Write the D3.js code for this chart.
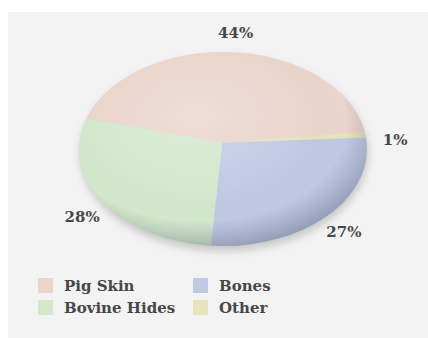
<!DOCTYPE html>
<html>
<head>
<meta charset="utf-8">
<script src="https://cdn.jsdelivr.net/npm/d3@7/dist/d3.min.js"></script>
<style>
  html, body { margin: 0; padding: 0; background: #ffffff; }
  svg { display: block; }
  text { font-family: "DejaVu Serif", "Liberation Serif", serif; fill: #474747; font-weight: bold; }
</style>
</head>
<body>
<script>
// Gelatin raw material sources, share of total (%)
const categories = ["Pig Skin", "Bovine Hides", "Bones", "Other"];
const values = [44, 28, 27, 1];
const colors = ["#ead4cb", "#d2e8cb", "#bfc9e3", "#e7e3bb"];
// Clockwise drawing order of the slices, starting at the upper left
const sliceOrder = ["Pig Skin", "Other", "Bones", "Bovine Hides"];
// Legend grid: two columns
const legendColumns = [["Pig Skin", "Bovine Hides"], ["Bones", "Other"]];

const W = 428, H = 338;
const cx = 223, cy = 149, rx = 144, ry = 97;   // ellipse outline
const hubX = 222, hubY = 143;                   // point where slices meet

const svg = d3.select("body").append("svg").attr("width", W).attr("height", H);
const defs = svg.append("defs");

// panel background
svg.append("rect").attr("x", 8).attr("y", 12).attr("width", W - 8).attr("height", H - 12)
  .attr("fill", "#f3f3f3");

// soft drop shadow under the pie
const blur = defs.append("filter").attr("id", "shadowBlur")
  .attr("x", "-20%").attr("y", "-20%").attr("width", "140%").attr("height", "140%");
blur.append("feGaussianBlur").attr("stdDeviation", 4);
svg.append("ellipse").attr("cx", cx + 1).attr("cy", cy + 5).attr("rx", rx).attr("ry", ry)
  .attr("fill", "#9a9a9a").attr("opacity", 0.5).attr("filter", "url(#shadowBlur)");

// slight softening of the pie body
const soft = defs.append("filter").attr("id", "soften")
  .attr("x", "-5%").attr("y", "-5%").attr("width", "110%").attr("height", "110%");
soft.append("feGaussianBlur").attr("stdDeviation", 0.7);

// clip slices to the ellipse
defs.append("clipPath").attr("id", "pieClip")
  .append("ellipse").attr("cx", cx).attr("cy", cy).attr("rx", rx).attr("ry", ry);

const colorOf = d3.scaleOrdinal().domain(categories).range(colors);
const valueOf = new Map(categories.map((c, i) => [c, values[i]]));

const start = -75 * Math.PI / 180;
const pie = d3.pie().sort(null).value(d => valueOf.get(d))
  .startAngle(start).endAngle(start + 2 * Math.PI);
const arcs = pie(sliceOrder);

const body = svg.append("g").attr("filter", "url(#soften)");
const bigArc = d3.arc().innerRadius(0).outerRadius(rx * 1.4);
body.append("g").attr("clip-path", "url(#pieClip)")
  .append("g").attr("transform", `translate(${hubX},${hubY}) scale(1,${ry / rx})`)
  .selectAll("path").data(arcs).join("path")
  .attr("d", bigArc)
  .attr("fill", d => colorOf(d.data))
  .attr("stroke", d => colorOf(d.data)).attr("stroke-width", 0.6);

// rim shading: light at the upper left, darker toward the lower right
const shade = defs.append("radialGradient").attr("id", "rimShade")
  .attr("cx", "0.43").attr("cy", "0.38").attr("r", "0.63").attr("fx", "0.4").attr("fy", "0.32");
shade.append("stop").attr("offset", "0%").attr("stop-color", "#ffffff").attr("stop-opacity", 0.22);
shade.append("stop").attr("offset", "55%").attr("stop-color", "#ffffff").attr("stop-opacity", 0.05);
shade.append("stop").attr("offset", "80%").attr("stop-color", "#5a5f78").attr("stop-opacity", 0.0);
shade.append("stop").attr("offset", "100%").attr("stop-color", "#4a4f68").attr("stop-opacity", 0.34);
body.append("ellipse").attr("cx", cx).attr("cy", cy).attr("rx", rx).attr("ry", ry)
  .attr("fill", "url(#rimShade)");

// percentage labels outside each slice
const labelK = 1.2;
svg.append("g").selectAll("text").data(arcs).join("text")
  .attr("x", d => cx + Math.sin((d.startAngle + d.endAngle) / 2) * rx * labelK)
  .attr("y", d => cy - Math.cos((d.startAngle + d.endAngle) / 2) * ry * labelK)
  .attr("dy", "0.35em")
  .attr("text-anchor", "middle")
  .attr("font-size", 15)
  .text(d => d.value + "%");

// legend
const legendX = d3.scaleOrdinal().domain([0, 1]).range([38, 193]);
const legendY = d3.scaleOrdinal().domain([0, 1]).range([278, 300]);
const legend = svg.append("g");
legendColumns.forEach((col, ci) => {
  col.forEach((name, ri) => {
    const g = legend.append("g")
      .attr("transform", `translate(${legendX(ci)},${legendY(ri)})`);
    g.append("rect").attr("width", 15).attr("height", 15).attr("fill", colorOf(name));
    g.append("text").attr("x", 26).attr("y", 13).attr("font-size", 15).text(name);
  });
});
</script>
</body>
</html>
